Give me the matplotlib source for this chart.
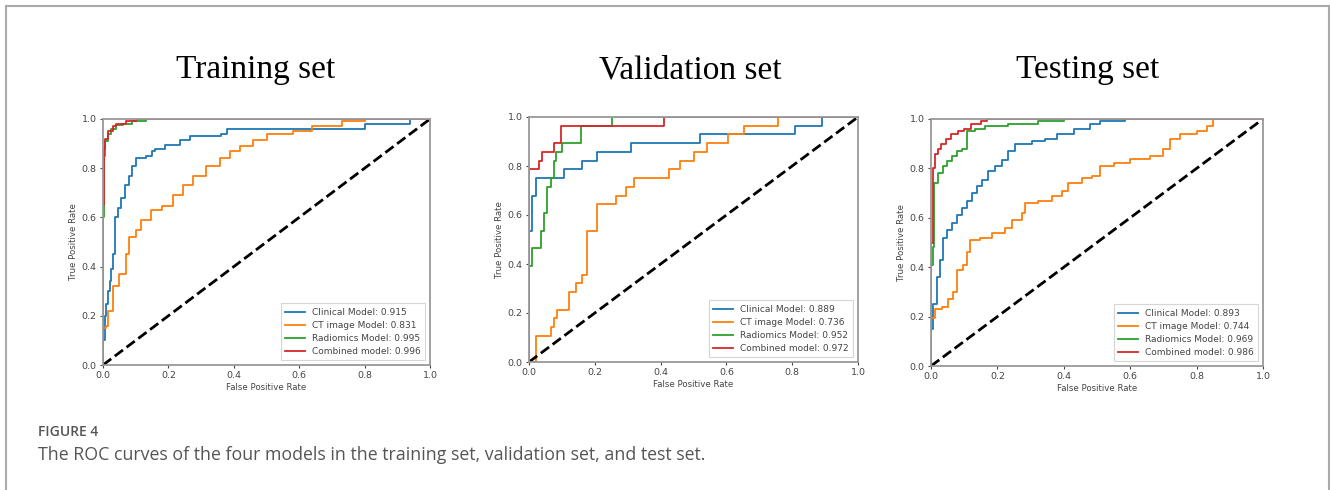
import numpy as np
import matplotlib.pyplot as plt
from matplotlib.lines import Line2D

# ---- datos (fpr, tpr) ----
panel_titles = ["Training set", "Validation set", "Testing set"]
model_names = ["Clinical Model", "CT image Model", "Radiomics Model", "Combined model"]
auc_train = [0.915, 0.831, 0.995, 0.996]
auc_val = [0.889, 0.736, 0.952, 0.972]
auc_test = [0.893, 0.744, 0.969, 0.986]

train_clinical_fpr = [0, 0, 0.005, 0.01, 0.015, 0.02, 0.025, 0.03, 0.036, 0.046, 0.056, 0.066, 0.08, 0.09, 0.1, 0.13, 0.15, 0.16, 0.19, 0.235, 0.265, 0.36, 0.38, 0.80, 0.94, 1.0]
train_clinical_tpr = [0, 0.1, 0.2, 0.25, 0.3, 0.34, 0.39, 0.45, 0.6, 0.64, 0.68, 0.73, 0.77, 0.81, 0.84, 0.85, 0.87, 0.88, 0.895, 0.915, 0.93, 0.94, 0.96, 0.98, 1.0, 1.0]
train_ct_fpr = [0, 0, 0.01, 0.015, 0.03, 0.05, 0.07, 0.08, 0.1, 0.117, 0.148, 0.18, 0.214, 0.245, 0.275, 0.315, 0.357, 0.387, 0.418, 0.46, 0.5, 0.58, 0.64, 0.73, 0.8, 1.0]
train_ct_tpr = [0, 0.15, 0.16, 0.22, 0.32, 0.37, 0.45, 0.52, 0.55, 0.59, 0.63, 0.645, 0.69, 0.73, 0.77, 0.81, 0.84, 0.87, 0.89, 0.915, 0.94, 0.95, 0.97, 0.99, 1.0, 1.0]
train_radio_fpr = [0, 0, 0.003, 0.006, 0.015, 0.025, 0.04, 0.06, 0.09, 0.13, 1.0]
train_radio_tpr = [0, 0.6, 0.85, 0.91, 0.94, 0.96, 0.975, 0.98, 0.99, 1.0, 1.0]
train_comb_fpr = [0, 0, 0.002, 0.005, 0.015, 0.03, 0.04, 0.07, 0.1, 1.0]
train_comb_tpr = [0, 0.65, 0.88, 0.92, 0.95, 0.97, 0.98, 0.99, 1.0, 1.0]

val_clinical_fpr = [0, 0, 0.01, 0.02, 0.106, 0.162, 0.208, 0.309, 0.52, 0.81, 0.89, 1.0]
val_clinical_tpr = [0, 0.536, 0.679, 0.75, 0.786, 0.821, 0.857, 0.893, 0.929, 0.964, 1.0, 1.0]
val_ct_fpr = [0, 0.02, 0.066, 0.076, 0.086, 0.122, 0.142, 0.162, 0.177, 0.208, 0.264, 0.294, 0.32, 0.427, 0.458, 0.5, 0.54, 0.605, 0.655, 0.757, 1.0]
val_ct_tpr = [0, 0.107, 0.143, 0.179, 0.214, 0.286, 0.321, 0.357, 0.536, 0.643, 0.679, 0.714, 0.75, 0.786, 0.821, 0.857, 0.893, 0.929, 0.964, 1.0, 1.0]
val_radio_fpr = [0, 0, 0.01, 0.035, 0.045, 0.056, 0.066, 0.076, 0.081, 0.1, 0.157, 0.253, 1.0]
val_radio_tpr = [0, 0.393, 0.464, 0.536, 0.607, 0.714, 0.75, 0.821, 0.857, 0.893, 0.964, 1.0, 1.0]
val_comb_fpr = [0, 0, 0.03, 0.039, 0.076, 0.096, 0.41, 1.0]
val_comb_tpr = [0, 0.786, 0.821, 0.857, 0.893, 0.964, 1.0, 1.0]

test_clinical_fpr = [0, 0, 0.007, 0.017, 0.027, 0.037, 0.047, 0.062, 0.077, 0.092, 0.107, 0.122, 0.138, 0.153, 0.173, 0.193, 0.213, 0.233, 0.253, 0.303, 0.343, 0.38, 0.43, 0.48, 0.51, 0.585, 1.0]
test_clinical_tpr = [0, 0.15, 0.25, 0.36, 0.43, 0.52, 0.55, 0.58, 0.61, 0.64, 0.67, 0.7, 0.73, 0.755, 0.79, 0.81, 0.835, 0.87, 0.9, 0.91, 0.92, 0.94, 0.96, 0.98, 0.99, 1.0, 1.0]
test_ct_fpr = [0, 0, 0.012, 0.032, 0.052, 0.067, 0.077, 0.097, 0.107, 0.117, 0.148, 0.183, 0.223, 0.243, 0.273, 0.283, 0.323, 0.363, 0.394, 0.414, 0.454, 0.484, 0.51, 0.55, 0.6, 0.66, 0.7, 0.72, 0.75, 0.8, 0.83, 0.85, 1.0]
test_ct_tpr = [0, 0.195, 0.23, 0.24, 0.27, 0.3, 0.39, 0.41, 0.46, 0.51, 0.52, 0.54, 0.56, 0.59, 0.62, 0.66, 0.67, 0.69, 0.71, 0.74, 0.76, 0.77, 0.81, 0.82, 0.84, 0.85, 0.88, 0.92, 0.94, 0.95, 0.97, 1.0, 1.0]
test_radio_fpr = [0, 0, 0.005, 0.01, 0.022, 0.037, 0.047, 0.062, 0.077, 0.092, 0.107, 0.132, 0.163, 0.233, 0.323, 0.4, 1.0]
test_radio_tpr = [0, 0.41, 0.48, 0.74, 0.78, 0.81, 0.83, 0.85, 0.87, 0.88, 0.95, 0.96, 0.97, 0.98, 0.99, 1.0, 1.0]
test_comb_fpr = [0, 0, 0.005, 0.012, 0.02, 0.03, 0.045, 0.06, 0.08, 0.1, 0.12, 0.15, 0.17, 1.0]
test_comb_tpr = [0, 0.5, 0.8, 0.86, 0.88, 0.9, 0.92, 0.94, 0.95, 0.96, 0.98, 0.99, 1.0, 1.0]

colores = ["#1f77b4", "#ff7f0e", "#2ca02c", "#d62728"]

paneles = [
    [(train_clinical_fpr, train_clinical_tpr), (train_ct_fpr, train_ct_tpr),
     (train_radio_fpr, train_radio_tpr), (train_comb_fpr, train_comb_tpr)],
    [(val_clinical_fpr, val_clinical_tpr), (val_ct_fpr, val_ct_tpr),
     (val_radio_fpr, val_radio_tpr), (val_comb_fpr, val_comb_tpr)],
    [(test_clinical_fpr, test_clinical_tpr), (test_ct_fpr, test_ct_tpr),
     (test_radio_fpr, test_radio_tpr), (test_comb_fpr, test_comb_tpr)],
]
aucs = [auc_train, auc_val, auc_test]

fig = plt.figure(figsize=(13.3, 4.9), dpi=100)

# marco gris de la figura (arriba, izquierda, derecha)
fig.add_artist(Line2D([6/1330, 6/1330], [0, 1 - 6.5/490], color="#aaaaaa", lw=1.5))
fig.add_artist(Line2D([6/1330, 1328.5/1330], [1 - 6.5/490, 1 - 6.5/490], color="#aaaaaa", lw=1.5))
fig.add_artist(Line2D([1328.5/1330, 1328.5/1330], [0, 1 - 6.5/490], color="#aaaaaa", lw=1.5))

posiciones = [
    [103/1330, 1 - 365/490, 327/1330, 246/490],
    [529/1330, 1 - 362/490, 329/1330, 245/490],
    [931/1330, 1 - 366/490, 332/1330, 247/490],
]
centros_titulo = [256/1330, 690/1330, 1088/1330]

for i in range(3):
    ax = fig.add_axes(posiciones[i])
    for j in range(4):
        fpr, tpr = paneles[i][j]
        ax.plot(fpr, tpr, drawstyle="steps-post", color=colores[j], lw=1.3,
                label="%s: %.3f" % (model_names[j], aucs[i][j]))
    ax.plot([0, 1], [0, 1], "k--", lw=2)
    ax.set_xlim(0, 1)
    ax.set_ylim(0, 1)
    ax.set_xticks(np.arange(0, 1.01, 0.2))
    ax.set_yticks(np.arange(0, 1.01, 0.2))
    ax.tick_params(labelsize=6.8, colors="#444444", length=2.5, width=0.8, pad=2)
    for s in ax.spines.values():
        s.set_color("#999999")
        s.set_linewidth(1.3)
    ax.set_xlabel("False Positive Rate", fontsize=6.2, color="#444444", labelpad=2)
    ax.set_ylabel("True Positive Rate", fontsize=6.2, color="#444444", labelpad=3)
    leg = ax.legend(loc="lower right", fontsize=6.5, frameon=True, fancybox=False,
                    handlelength=2.2, borderpad=0.5, labelspacing=0.45)
    leg.get_frame().set_edgecolor("#cccccc")
    leg.get_frame().set_linewidth(0.8)
    for t in leg.get_texts():
        t.set_color("#444444")
    fig.text(centros_titulo[i], 1 - 70/490, panel_titles[i], ha="center", va="center",
             fontsize=24, family="Liberation Serif", color="black")

fig.text(38/1330, 1 - 432/490, "FIGURE 4", fontsize=10, family="Open Sans",
         fontweight="semibold", color="#555555", va="center")
fig.text(38/1330, 1 - 455/490,
         "The ROC curves of the four models in the training set, validation set, and test set.",
         fontsize=12.8, family="Open Sans", color="#555555", va="center")

fig.savefig("out.png", dpi=100)
